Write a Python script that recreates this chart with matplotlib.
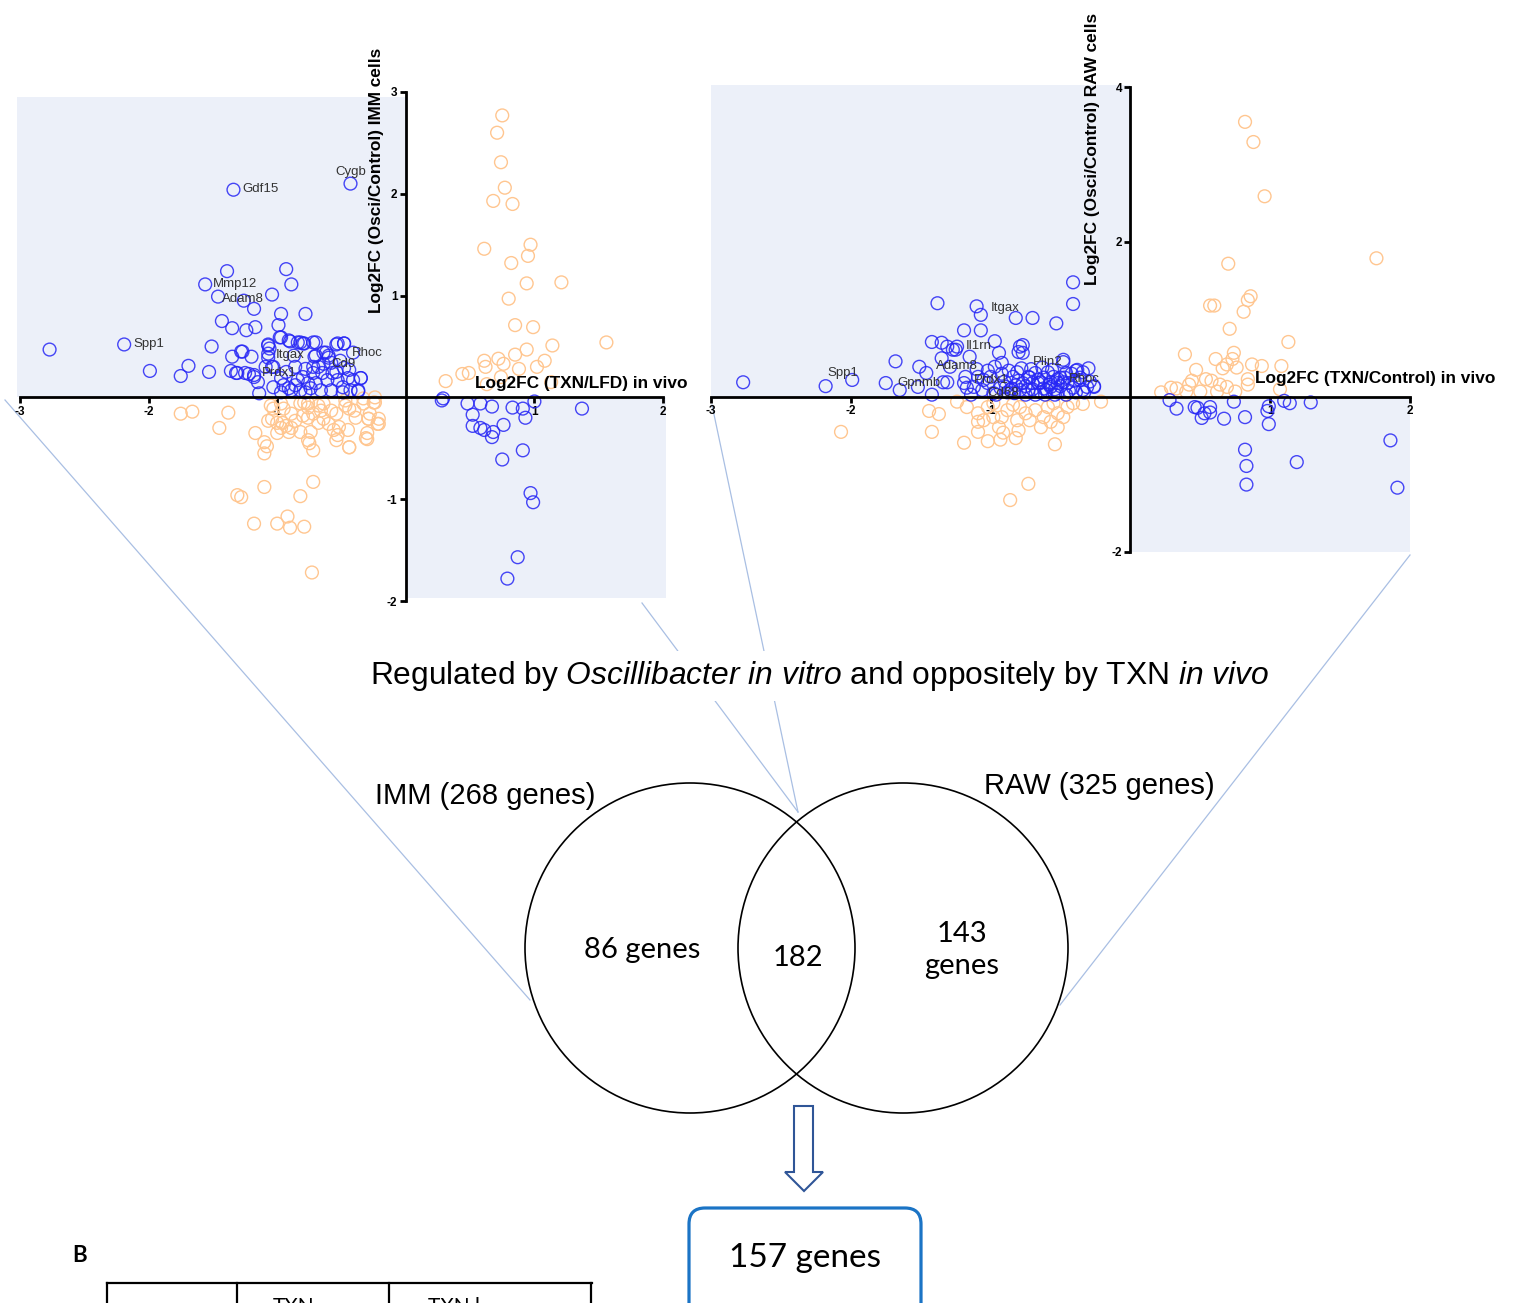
import numpy as np
import matplotlib
matplotlib.use('Agg')
import matplotlib.pyplot as plt
from matplotlib.patches import Rectangle, Circle, Polygon, FancyBboxPatch

plt.rcParams['mathtext.fontset'] = 'custom'
plt.rcParams['mathtext.rm'] = 'Liberation Sans'
plt.rcParams['mathtext.it'] = 'Liberation Sans:italic'

# ---------------- data: IMM (left panel) ----------------
imm_blue_x = [-2.77, -2.19, -1.34, -0.43, -1.39, -0.93, -0.89, -1.56, -1.46, -1.26, -1.04, -1.18,
              -0.97, -0.78, -1.43, -1.35, -1.24, -1.17, -0.99, -0.98, -0.90, -0.82, -0.79, -0.70,
              -0.54, -0.48, -0.41, -0.64, -0.60, -0.71, -0.51, -1.51, -1.27, -1.35, -1.20, -1.07,
              -1.06, -1.07, -1.69, -1.75, -1.99, -1.53, -1.36, -1.32, -1.22, -1.18, -1.15, -1.14,
              -1.04, -0.35, -0.37,
              -1.28, -1.31, -1.25, -1.18, -1.07, -1.07, -1.09, -1.03, -0.97, -0.91, -0.84, -0.80,
              -0.72, -0.87, -0.70, -0.62, -0.60, -0.53, -0.48, -0.97, -0.95, -0.91, -1.03, -0.84,
              -0.80, -0.76, -0.72, -0.68, -0.65, -0.61, -0.57, -0.53, -0.49, -0.45, -0.41, -0.35,
              -0.37, -0.43, -0.49, -0.58, -0.66, -0.74, -0.82, -0.89, -0.64, -0.58, -0.72, -0.78,
              -0.86, -0.93, -0.48, -0.44, -0.54, -0.70, -0.86, -0.78, -0.97]
imm_blue_y = [0.47, 0.52, 2.04, 2.10, 1.24, 1.26, 1.11, 1.11, 0.99, 0.95, 1.01, 0.87,
              0.82, 0.82, 0.75, 0.68, 0.66, 0.69, 0.71, 0.59, 0.55, 0.54, 0.53, 0.54,
              0.52, 0.53, 0.44, 0.44, 0.41, 0.40, 0.36, 0.50, 0.45, 0.40, 0.40, 0.52,
              0.48, 0.39, 0.31, 0.21, 0.26, 0.25, 0.26, 0.24, 0.23, 0.22, 0.15, 0.04,
              0.30, 0.19, 0.06,
              0.45, 0.24, 0.24, 0.20, 0.51, 0.43, 0.30, 0.30, 0.59, 0.56, 0.54, 0.53,
              0.54, 0.41, 0.41, 0.44, 0.39, 0.53, 0.53, 0.19, 0.12, 0.09, 0.10, 0.17,
              0.20, 0.14, 0.24, 0.30, 0.24, 0.17, 0.24, 0.17, 0.10, 0.19, 0.17, 0.19,
              0.07, 0.07, 0.05, 0.07, 0.07, 0.09, 0.07, 0.07, 0.33, 0.34, 0.30, 0.28,
              0.30, 0.25, 0.29, 0.27, 0.25, 0.14, 0.12, 0.05, 0.05]

imm_orange_x = [-1.75, -1.66, -1.38, -1.45, -1.17, -1.10, -1.08, -1.10, -1.10, -1.31, -1.28,
                -0.72, -0.82, -1.18, -1.00, -0.92, -0.90, -0.79, -0.73, -0.30, -0.44, -0.21,
                -0.29, -0.24, -0.33, -0.24, -0.28, -0.21, -0.30,
                -1.05, -1.03, -1.07, -1.04, -0.97, -0.95, -1.00, -0.96, -0.93, -0.91, -0.89,
                -0.82, -0.79, -0.76, -0.80, -0.76, -0.72, -0.82, -0.74, -0.76, -0.75, -0.72,
                -0.68, -0.66, -0.64, -0.68, -0.64, -0.60, -0.58, -0.54, -0.56, -0.52, -0.54,
                -0.53, -0.47, -0.44, -0.47, -0.45, -0.44, -0.39, -0.40, -0.33, -0.25, -0.29,
                -0.22, -0.31, -0.76, -0.86, -0.89, -0.97, -1.00,
                0.75, 0.71, 0.74, 0.77, 0.68, 0.83, 0.61, 0.97, 0.95, 0.82, 0.94, 1.21,
                0.80, 0.85, 0.99, 1.56, 1.14, 0.94, 0.85, 0.61, 0.72, 0.76, 0.62, 1.08,
                1.02, 0.88, 0.44, 0.49, 0.31, 0.63, 1.13, 0.74]
imm_orange_y = [-0.16, -0.14, -0.15, -0.30, -0.35, -0.44, -0.48, -0.55, -0.88, -0.96, -0.98,
                -0.83, -0.97, -1.24, -1.24, -1.17, -1.28, -1.27, -1.72, -0.41, -0.49, -0.26,
                -0.21, -0.05, -0.01, 0.00, -0.16, -0.21, -0.35,
                -0.08, -0.11, -0.23, -0.21, -0.06, -0.11, -0.25, -0.25, -0.28, -0.34, -0.16,
                -0.06, -0.05, -0.10, -0.18, -0.20, -0.16, -0.34, -0.34, -0.42, -0.45, -0.52,
                -0.08, -0.13, -0.06, -0.25, -0.21, -0.26, -0.13, -0.16, -0.32, -0.29, -0.42,
                -0.37, -0.08, -0.11, -0.03, -0.32, -0.49, -0.20, -0.13, -0.06, -0.05, -0.21,
                -0.26, -0.40, -0.06, -0.23, -0.30, -0.30, -0.35,
                2.77, 2.60, 2.31, 2.06, 1.93, 1.90, 1.46, 1.50, 1.39, 1.32, 1.12, 1.13,
                0.97, 0.71, 0.69, 0.54, 0.51, 0.47, 0.42, 0.36, 0.38, 0.33, 0.30, 0.36,
                0.30, 0.28, 0.23, 0.24, 0.16, 0.13, 0.15, 0.20]

imm_blue2_x = [0.28, 0.29, 0.48, 0.58, 0.67, 0.83, 0.91, 1.00, 1.37, 0.93, 0.52, 0.52, 0.58,
               0.61, 0.68, 0.67, 0.76, 0.91, 0.75, 0.97, 0.99, 0.87, 0.79]
imm_blue2_y = [-0.03, -0.01, -0.06, -0.06, -0.09, -0.10, -0.11, -0.04, -0.11, -0.20, -0.17,
               -0.28, -0.30, -0.32, -0.34, -0.39, -0.27, -0.52, -0.61, -0.94, -1.03, -1.57,
               -1.78]

imm_genes = ['Gdf15', 'Cygb', 'Mmp12', 'Adam8', 'Spp1', 'Itgax', 'Rhoc', 'Cd9', 'Prdx1']
imm_gene_x = [-1.27, -0.55, -1.50, -1.43, -2.12, -1.01, -0.42, -0.58, -1.12]
imm_gene_y = [2.05, 2.21, 1.11, 0.97, 0.52, 0.42, 0.44, 0.33, 0.24]

# ---------------- data: RAW (right panel) ----------------
raw_blue_x = [-2.77, -2.18, -1.99, -1.75, -1.65, -1.68, -1.51, -1.46, -1.52, -1.42, -1.38,
              -1.42, -1.35, -1.35, -1.27, -1.24, -1.31, -1.19, -1.10, -1.07, -1.07, -1.15,
              -0.97, -0.94, -0.82, -0.70, -0.53, -0.41, -0.41, -0.77, -0.80, -0.48, -0.26,
              -0.34, -0.39,
              -1.31, -1.25, -1.34, -1.29, -1.19, -1.17, -1.18, -1.09, -1.06, -1.02, -1.00,
              -0.97, -0.92, -0.89, -0.88, -0.84, -0.81, -0.79, -0.77, -0.77, -0.73, -0.72,
              -0.68, -0.66, -0.64, -0.62, -0.59, -0.57, -0.55, -0.52, -0.52, -0.48, -0.46,
              -0.45, -0.41, -0.36, -0.31, -0.26, -0.50, -0.48, -0.57, -0.64, -0.70, -0.73,
              -0.79, -0.82, -0.86, -0.93, -0.98, -1.05, -1.12, -1.14, -0.61, -0.54, -0.46,
              -0.39, -0.68, -0.75, -0.38, -0.30,
              -0.90, -0.85, -0.80, -0.75, -0.70, -0.66, -0.62, -0.58, -0.54, -0.50, -0.44,
              -0.40, -0.34, -0.29, -0.92, -0.87, -0.78, -0.71, -0.63, -0.56, -0.47, -0.42,
              -0.36, -0.33, -1.02, -0.96, -1.10, -0.83, -0.60, -0.52]
raw_blue_y = [0.19, 0.14, 0.22, 0.18, 0.09, 0.46, 0.39, 0.31, 0.13, 0.03, 1.21,
              0.71, 0.70, 0.50, 0.61, 0.65, 0.19, 0.86, 1.17, 1.06, 0.86, 0.52,
              0.72, 0.57, 1.02, 1.02, 0.95, 1.48, 1.20, 0.67, 0.58, 0.45, 0.14,
              0.32, 0.34,
              0.65, 0.61, 0.19, 0.39, 0.18, 0.12, 0.26, 0.26, 0.09, 0.18, 0.26,
              0.39, 0.44, 0.13, 0.06, 0.26, 0.32, 0.65, 0.57, 0.18, 0.09, 0.25,
              0.31, 0.18, 0.06, 0.25, 0.32, 0.13, 0.26, 0.18, 0.06, 0.48, 0.31,
              0.18, 0.12, 0.25, 0.13, 0.13, 0.25, 0.19, 0.19, 0.19, 0.18, 0.26,
              0.09, 0.15, 0.09, 0.12, 0.05, 0.22, 0.13, 0.03, 0.03, 0.03, 0.03,
              0.06, 0.03, 0.03, 0.35, 0.37,
              0.20, 0.11, 0.21, 0.14, 0.10, 0.22, 0.11, 0.16, 0.10, 0.14, 0.08,
              0.21, 0.09, 0.20, 0.30, 0.34, 0.37, 0.36, 0.38, 0.35, 0.25, 0.30,
              0.22, 0.06, 0.34, 0.03, 0.36, 0.05, 0.09, 0.23]

raw_orange_x = [-2.07, -1.44, -1.37, -1.42, -1.24, -1.19, -1.02, -0.93, -0.82, -0.54, -0.21,
                -0.34, -0.86, -0.73,
                -1.17, -1.09, -1.09, -1.09, -1.02, -0.98, -0.92, -0.94, -0.91, -0.84, -0.79,
                -0.75, -0.72, -0.68, -0.64, -0.62, -0.59, -0.55, -0.52, -0.48, -0.45, -0.41,
                -0.81, -0.80, -0.52, -1.05, -0.88, -0.57, -0.98,
                0.82, 0.88, 0.96, 1.76, 0.70, 0.57, 0.60, 0.84, 0.86, 0.81, 0.71, 1.13,
                0.39, 0.74, 0.73, 0.76, 0.61, 0.47, 0.87, 0.94, 1.08, 0.66, 0.69, 0.54,
                0.58, 0.44, 0.42, 0.84, 0.84, 0.64, 0.69, 0.29, 0.33, 0.22, 0.40, 0.50,
                0.62, 0.75, 1.07]
raw_orange_y = [-0.45, -0.18, -0.22, -0.45, -0.06, -0.59, -0.57, -0.55, -0.53, -0.61, -0.06,
                -0.09, -1.33, -1.12,
                -0.13, -0.21, -0.32, -0.45, -0.13, -0.08, -0.26, -0.39, -0.46, -0.10, -0.13,
                -0.21, -0.30, -0.17, -0.39, -0.26, -0.13, -0.08, -0.21, -0.26, -0.13, -0.08,
                -0.30, -0.43, -0.39, -0.30, -0.17, -0.32, -0.26,
                3.55, 3.29, 2.59, 1.79, 1.72, 1.18, 1.18, 1.25, 1.30, 1.10, 0.88, 0.71,
                0.55, 0.57, 0.49, 0.38, 0.49, 0.35, 0.42, 0.40, 0.40, 0.37, 0.42, 0.23,
                0.21, 0.21, 0.16, 0.23, 0.16, 0.16, 0.13, 0.12, 0.11, 0.06, 0.07, 0.07,
                0.07, 0.07, 0.10]

raw_blue2_x = [0.28, 0.33, 0.46, 0.48, 0.51, 0.53, 0.57, 0.57, 0.67, 0.74, 0.82, 0.98, 0.99,
               0.99, 1.10, 1.14, 1.29, 0.82, 0.83, 0.83, 1.19, 1.86, 1.91]
raw_blue2_y = [-0.04, -0.15, -0.13, -0.14, -0.27, -0.21, -0.20, -0.13, -0.28, -0.06, -0.26,
               -0.18, -0.12, -0.35, -0.05, -0.08, -0.07, -0.68, -0.89, -1.13, -0.84, -0.56,
               -1.17]

raw_genes = ['Itgax', 'Il1rn', 'Adam8', 'Spp1', 'Gpnmb', 'Prdx1', 'Cd68', 'Plin2', 'Rhoc']
raw_gene_x = [-1.00, -1.18, -1.39, -2.17, -1.67, -1.12, -1.02, -0.70, -0.44]
raw_gene_y = [1.15, 0.66, 0.40, 0.31, 0.18, 0.22, 0.05, 0.45, 0.23]

venn_labels = ['IMM (268 genes)', 'RAW (325 genes)']
venn_counts = ['86 genes', '182', '143\ngenes']
final_count = '157 genes'

# ---------------- figure ----------------
W, H = 1532, 1303
fig = plt.figure(figsize=(W / 100, H / 100), dpi=100)
fig.patch.set_facecolor('white')

BLUE = '#2626f5'
ORANGE = '#ffc690'
SHADE = '#ecf0f9'
SANS = 'Liberation Sans'
CAL = 'Lato'

# overlay in pixel coords
ax0 = fig.add_axes([0, 0, 1, 1])
ax0.set_xlim(0, W)
ax0.set_ylim(H, 0)
ax0.axis('off')

for (x1, y1, x2, y2) in [(5, 400, 530, 1000), (642, 603, 798, 812),
                         (712, 405, 798, 812), (1410, 555, 1060, 1005)]:
    ax0.plot([x1, x2], [y1, y2], color='#a9bfe3', lw=0.9, zorder=1)

ax0.add_patch(Circle((690, 948), 165, fill=False, ec='black', lw=1.2, zorder=3))
ax0.add_patch(Circle((903, 948), 165, fill=False, ec='black', lw=1.2, zorder=3))

ax0.text(820, 676, 'Regulated by $\\it{Oscillibacter}$ $\\it{in}$ $\\it{vitro}$ and oppositely by TXN $\\it{in}$ $\\it{vivo}$',
         ha='center', va='center', fontsize=22.9, family=SANS, zorder=4,
         bbox=dict(fc='white', ec='none', pad=6))
ax0.text(485, 796, venn_labels[0], ha='center', va='center', fontsize=21, family=SANS,
         zorder=4, bbox=dict(fc='white', ec='none', pad=1))
ax0.text(1099, 786, venn_labels[1], ha='center', va='center', fontsize=21, family=SANS,
         zorder=4, bbox=dict(fc='white', ec='none', pad=1))
ax0.text(642, 950, venn_counts[0], ha='center', va='center', fontsize=21, family=CAL, zorder=4)
ax0.text(798, 958, venn_counts[1], ha='center', va='center', fontsize=21, family=CAL, zorder=4)
ax0.text(962, 950, venn_counts[2], ha='center', va='center', fontsize=21, family=CAL,
         zorder=4, linespacing=1.25)

# hollow arrow
arrow_pts = [(794, 1106), (813, 1106), (813, 1172), (823, 1172), (804, 1191),
             (785, 1172), (794, 1172)]
ax0.add_patch(Polygon(arrow_pts, closed=True, fc='white', ec='#2f5597', lw=1.5, zorder=3))

ax0.add_patch(FancyBboxPatch((689, 1208), 232, 120, boxstyle='round,pad=0,rounding_size=16',
                             fc='white', ec='#1b74c5', lw=2.3, zorder=3))
ax0.text(805, 1258, final_count, ha='center', va='center', fontsize=24, family=CAL, zorder=4)

# panel B table fragment (cut by the bottom edge, as in the source)
ax0.text(80, 1256, 'B', ha='center', va='center', fontsize=16, family=CAL, fontweight='bold')
ax0.plot([107, 592], [1283, 1283], color='black', lw=1.6)
for xv in [107, 237, 389, 591]:
    ax0.plot([xv, xv], [1283, 1310], color='black', lw=1.6)
ax0.text(294, 1297, 'TXN', ha='center', va='top', fontsize=15, family=CAL)
ax0.text(428, 1297, 'TXN l', ha='left', va='top', fontsize=15, family=CAL)


def scatter_panel(pos, xlim, ylim, xt, yt, shade, bx, by, ox, oy, bx2, by2,
                  genes, gx, gy):
    ax = fig.add_axes(pos)
    ax.patch.set_alpha(0)
    ax.set_xlim(*xlim)
    ax.set_ylim(*ylim)
    for r in shade:
        ax.add_patch(Rectangle(r[0], r[1], r[2], fc=SHADE, ec='none', zorder=0, clip_on=False))
    ax.scatter(ox, oy, s=85, facecolors='none', edgecolors=ORANGE, linewidths=1.0,
               zorder=2, clip_on=False)
    ax.scatter(bx, by, s=85, facecolors='none', edgecolors=BLUE, linewidths=1.0,
               alpha=0.85, zorder=3, clip_on=False)
    ax.scatter(bx2, by2, s=85, facecolors='none', edgecolors=BLUE, linewidths=1.0,
               alpha=0.85, zorder=3, clip_on=False)
    for g, x, y in zip(genes, gx, gy):
        ax.text(x, y, g, fontsize=9.5, family=SANS, color='#333333', ha='left',
                va='center', zorder=4)
    for s in ['top', 'right']:
        ax.spines[s].set_visible(False)
    for s in ['left', 'bottom']:
        ax.spines[s].set_position('zero')
        ax.spines[s].set_linewidth(2.0)
        ax.spines[s].set_zorder(5)
    ax.set_xticks(xt)
    ax.set_yticks(yt)
    ax.set_xticklabels([str(v) for v in xt])
    ax.set_yticklabels([str(v) for v in yt])
    ax.tick_params(direction='out', length=4.5, width=2.0, labelsize=8.5, pad=1.5)
    for lab in ax.get_xticklabels() + ax.get_yticklabels():
        lab.set_fontweight('bold')
        lab.set_family(SANS)
    return ax


axL = scatter_panel([20 / W, 1 - 601 / H, 643 / W, 509 / H], (-3, 2), (-2, 3),
                    [-3, -2, -1, 1, 2], [-2, -1, 1, 2, 3],
                    [((-3.02, 0), 3.02, 2.95), ((0, -1.97), 2.02, 1.97)],
                    imm_blue_x, imm_blue_y, imm_orange_x, imm_orange_y,
                    imm_blue2_x, imm_blue2_y, imm_genes, imm_gene_x, imm_gene_y)
axR = scatter_panel([711 / W, 1 - 552 / H, 699 / W, 465 / H], (-3, 2), (-2, 4),
                    [-3, -2, -1, 1, 2], [-2, 2, 4],
                    [((-3.0, 0), 3.0, 4.03), ((0, -2.0), 2.0, 2.0)],
                    raw_blue_x, raw_blue_y, raw_orange_x, raw_orange_y,
                    raw_blue2_x, raw_blue2_y, raw_genes, raw_gene_x, raw_gene_y)

# axis titles (pixel positions)
def ftext(px, py, s, **kw):
    fig.text(px / W, 1 - py / H, s, **kw)

ftext(475, 384, 'Log2FC (TXN/LFD) in vivo', ha='left', va='center', fontsize=12.4,
      fontweight='bold', family=SANS)
ftext(376, 180, 'Log2FC (Osci/Control) IMM cells', ha='center', va='center', rotation=90,
      fontsize=12.4, fontweight='bold', family=SANS)
ftext(1255, 378, 'Log2FC (TXN/Control) in vivo', ha='left', va='center', fontsize=12.4,
      fontweight='bold', family=SANS)
ftext(1093, 149, 'Log2FC (Osci/Control) RAW cells', ha='center', va='center', rotation=90,
      fontsize=12.4, fontweight='bold', family=SANS)

fig.savefig('out.png', dpi=100, facecolor='white')
